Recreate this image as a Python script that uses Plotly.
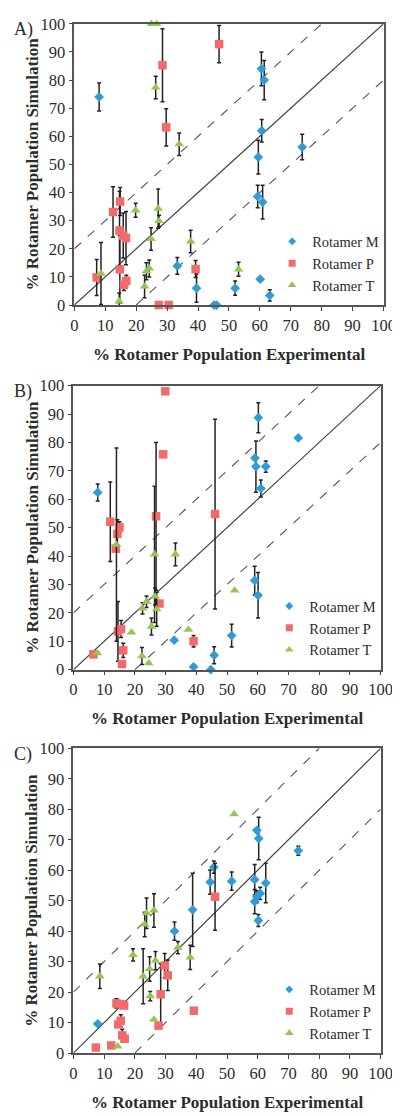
import plotly.graph_objects as go

# ---------------- data ----------------
series_names = ["Rotamer M", "Rotamer P", "Rotamer T"]
panel_labels = ["A)", "B)", "C)"]
tick_vals = [0, 10, 20, 30, 40, 50, 60, 70, 80, 90, 100]
x_title = "% Rotamer Population Experimental"
y_title = "% Rotamer Population Simulation"

# Panel A
A_M_x = [8, 33.3, 39.5, 45.2, 46.0, 52.0, 59.3, 59.5, 60.1, 60.5, 60.6, 60.9, 61.4, 63.2, 73.7]
A_M_y = [74, 13.9, 6, 0, 0, 6, 38.6, 52.6, 9.2, 84, 62, 36.6, 80, 3.4, 56.2]
A_M_e = [5, 3, 5, 0, 0, 2.5, 4, 6, 0, 6, 4, 6, 7, 2, 4.5]
A_P_x = [7.2, 12.5, 14.6, 14.7, 14.8, 15.8, 16.0, 16.7, 16.8, 27.3, 28.5, 29.7, 30.5, 39.2, 46.8]
A_P_y = [9.8, 33.1, 26.5, 12.7, 36.8, 24.7, 7.2, 23.8, 8.6, 0, 85.3, 63.2, 0, 12.8, 92.8]
A_P_e = [6.4, 9, 14, 12, 5, 8, 2, 9.5, 2, 0, 13, 6.6, 0, 3, 6.6]
A_T_x = [8.6, 14.5, 19.8, 22.7, 23.3, 24.2, 24.8, 24.9, 26.3, 26.6, 27.1, 27.4, 33.9, 37.6, 53.1]
A_T_y = [11.2, 1.3, 33.7, 6.6, 12, 13, 23.5, 100, 77.4, 100, 34.3, 29.9, 57.2, 22.6, 12.7]
A_T_e = [11, 3, 2.5, 4, 3, 3, 4, 0, 4, 0, 7, 2, 4, 4, 2.5]

# Panel B
B_M_x = [7.9, 32.8, 39.1, 44.7, 45.8, 51.5, 59.0, 59.1, 59.4, 60.1, 60.2, 61.0, 62.6, 73.2]
B_M_y = [62.4, 10.4, 1, 0, 5.1, 12, 31.4, 74.5, 71.5, 26.2, 88.7, 63.8, 71.5, 81.6]
B_M_e = [3, 0, 0, 0, 3, 4, 5, 0, 9, 8, 5.3, 3, 2, 0]
B_P_x = [6.5, 12.0, 13.8, 14.3, 14.5, 15.0, 15.5, 15.8, 16.2, 26.9, 28.0, 29.2, 29.9, 39.1, 46.1]
B_P_y = [5.4, 52.1, 42.6, 47.8, 13.5, 50.1, 14.3, 2.0, 6.8, 54, 23.3, 75.8, 98, 10, 54.8]
B_P_e = [0, 14, 0, 5, 10.5, 2, 3, 0, 2.5, 26, 0, 0, 0, 2, 33.4]
B_T_x = [7.8, 14.0, 18.9, 22.3, 22.5, 23.8, 24.5, 25.4, 26.4, 26.6, 27.1, 33.2, 37.4, 52.5]
B_T_y = [5.8, 44, 13.1, 4.8, 21.6, 23.9, 2.3, 15.2, 40.6, 25.8, 21.3, 40.6, 14.1, 27.9]
B_T_e = [0, 34, 0, 3, 2, 2, 0, 3, 24, 3, 6, 4, 0, 0]

# Panel C
C_M_x = [7.9, 32.9, 38.8, 44.5, 45.7, 51.5, 59.0, 59.0, 59.7, 59.7, 60.2, 60.3, 60.8, 62.6, 73.2]
C_M_y = [9.6, 40, 47, 56.1, 61, 56.4, 56.9, 49.7, 73.1, 51.3, 43.5, 70.4, 52.4, 55.8, 66.4]
C_M_e = [0, 3, 12, 4, 2, 3, 5, 4, 0, 2, 2, 7, 2, 6.5, 1.5]
C_P_x = [7.3, 12.3, 14.0, 14.6, 15.4, 15.4, 15.9, 16.5, 16.7, 27.7, 28.4, 29.7, 30.7, 39.2, 46.1]
C_P_y = [1.8, 2.5, 16.3, 9.4, 10.6, 16, 5.8, 15.6, 4.7, 9, 19.3, 28.7, 25.5, 13.9, 51.3]
C_P_e = [0, 0, 1.5, 0, 2, 0, 2, 0, 0, 0, 10, 4, 5, 0, 11]
C_T_x = [8.6, 14.4, 19.4, 22.7, 23.2, 23.8, 24.8, 25.0, 26.2, 26.2, 26.7, 34.0, 38.0, 52.3]
C_T_y = [25.2, 2.2, 32.2, 25.2, 42.2, 45.9, 27.6, 18.7, 46.8, 11, 30.3, 34.6, 31.4, 78.4]
C_T_e = [4, 0, 2, 9, 4, 5, 4, 1.5, 5.5, 0, 3, 2, 4, 0]

panels = [
    [(A_M_x, A_M_y, A_M_e), (A_P_x, A_P_y, A_P_e), (A_T_x, A_T_y, A_T_e)],
    [(B_M_x, B_M_y, B_M_e), (B_P_x, B_P_y, B_P_e), (B_T_x, B_T_y, B_T_e)],
    [(C_M_x, C_M_y, C_M_e), (C_P_x, C_P_y, C_P_e), (C_T_x, C_T_y, C_T_e)],
]

# ---------------- styling ----------------
W, H = 400, 1116
FONT = "Liberation Serif, Times New Roman, serif"
TXT = "#2b2b2b"
colors = ["#2F9BD7", "#F26A6A", "#95C652"]
symbols = ["diamond", "square", "triangle-up"]
sizes = [7.5, 8.5, 8.5]
legend_sizes = [6, 7, 7.5]

# plot areas in pixels: (left, right, top, bottom)
boxes = [(65, 387, 7, 293), (64, 384, 375, 664), (64, 384, 744, 1054)]

fig = go.Figure()
layout = dict(width=W, height=H, margin=dict(l=0, r=0, t=0, b=0),
              paper_bgcolor="white", plot_bgcolor="white", showlegend=True,
              font=dict(family=FONT, color=TXT))
shapes, annotations = [], []

for i, (data, box) in enumerate(zip(panels, boxes)):
    sfx = "" if i == 0 else str(i + 1)
    xa, ya = "x" + sfx, "y" + sfx
    leg = "legend" + sfx
    l, r, t, b = box
    axis_common = dict(range=[0, 100], tickvals=tick_vals, showgrid=False, zeroline=False,
                       showline=True, linecolor="#555555", linewidth=1.6, mirror=True,
                       ticks="outside", ticklen=4, tickwidth=1.2, tickcolor="#444444",
                       tickfont=dict(family=FONT, size=16.5, color=TXT),
                       fixedrange=True)
    layout["xaxis" + sfx] = dict(axis_common, domain=[l / W, r / W], anchor=ya)
    layout["yaxis" + sfx] = dict(axis_common, domain=[1 - b / H, 1 - t / H], anchor=xa)

    for k, (xs, ys, es) in enumerate(data):
        fig.add_trace(go.Scatter(
            x=xs, y=ys, mode="markers", name=series_names[k], showlegend=False,
            xaxis=xa, yaxis=ya, cliponaxis=False,
            marker=dict(symbol=symbols[k], size=sizes[k], color=colors[k], line=dict(width=0)),
            error_y=dict(type="data", array=es, visible=True, color="#222222",
                         thickness=1.5, width=2),
        ))
    # legend entries (smaller symbols, like the reference)
    for k in range(3):
        fig.add_trace(go.Scatter(
            x=[None], y=[None], mode="markers", name=series_names[k],
            xaxis=xa, yaxis=ya, legend=leg,
            marker=dict(symbol=symbols[k], size=legend_sizes[k], color=colors[k], line=dict(width=0)),
        ))

    # reference lines y = x and y = x +/- 20
    shapes.append(dict(type="line", xref=xa, yref=ya, x0=0, y0=0, x1=100, y1=100,
                       line=dict(color="#444444", width=1.2), layer="below"))
    shapes.append(dict(type="line", xref=xa, yref=ya, x0=0, y0=20, x1=80, y1=100,
                       line=dict(color="#555555", width=1.1, dash="dash"), layer="below"))
    shapes.append(dict(type="line", xref=xa, yref=ya, x0=20, y0=0, x1=100, y1=80,
                       line=dict(color="#555555", width=1.1, dash="dash"), layer="below"))

    layout[leg] = dict(x=(r - 116) / W, y=1 - (b - 81) / H, xanchor="left", yanchor="top",
                       bgcolor="rgba(0,0,0,0)", font=dict(family=FONT, size=14.5, color=TXT),
                       tracegroupgap=0)

    # axis titles and panel label
    annotations.append(dict(text="<b>" + x_title + "</b>", xref="paper", yref="paper",
                            x=(l + r) / 2 / W, y=1 - (b + 50) / H, xanchor="center", yanchor="middle",
                            showarrow=False, font=dict(family=FONT, size=17, color=TXT)))
    annotations.append(dict(text="<b>" + y_title + "</b>", xref="paper", yref="paper",
                            x=21 / W, y=1 - (t + b) / 2 / H, xanchor="center", yanchor="middle",
                            textangle=-90, showarrow=False,
                            font=dict(family=FONT, size=17, color=TXT)))
    annotations.append(dict(text=panel_labels[i], xref="paper", yref="paper",
                            x=0, y=1 - (t + 6) / H, xanchor="left", yanchor="middle", showarrow=False,
                            font=dict(family=FONT, size=18, color=TXT)))

layout["shapes"] = shapes
layout["annotations"] = annotations
fig.update_layout(**layout)
fig.write_html("out.html")
